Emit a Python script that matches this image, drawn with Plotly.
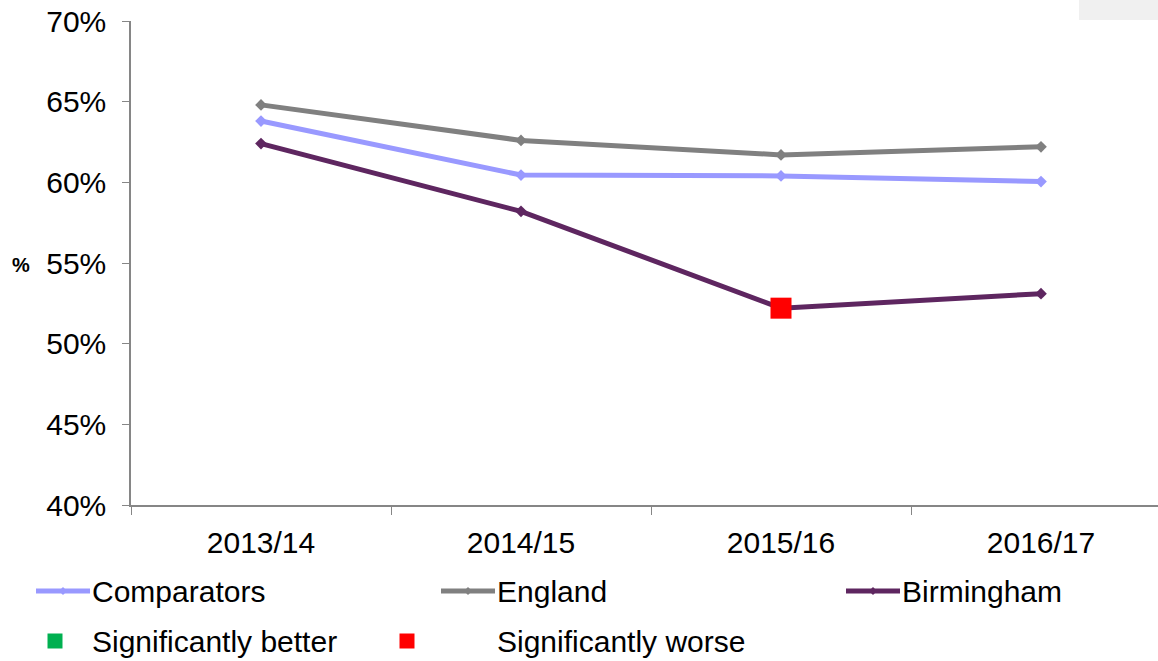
import plotly.graph_objects as go

# Data
years = ["2013/14", "2014/15", "2015/16", "2016/17"]
comparators = [63.8, 60.45, 60.4, 60.05]
england = [64.8, 62.6, 61.7, 62.2]
birmingham = [62.4, 58.2, 52.2, 53.1]
worse_year = ["2015/16"]
worse_value = [52.2]

series_names = ["Comparators", "England", "Birmingham"]
series_colors = ["#9999FF", "#808080", "#5E2660"]

FONT = "Arial, Liberation Sans, sans-serif"

# plot box in pixels
W_FIG, H_FIG = 1158, 661
L, T, R_EDGE, B_EDGE = 131, 21, 1158, 505


def xp(px):
    return (px - L) / (R_EDGE - L)


def yp(py):
    return (B_EDGE - py) / (B_EDGE - T)


fig = go.Figure()

for name, vals, col in zip(series_names, [comparators, england, birmingham], series_colors):
    fig.add_trace(go.Scatter(
        x=years, y=vals, name=name, mode="lines+markers",
        line=dict(color=col, width=5),
        marker=dict(symbol="diamond", size=9, color=col),
        showlegend=False
    ))

# significantly worse marker
fig.add_trace(go.Scatter(
    x=worse_year, y=worse_value, mode="markers",
    marker=dict(symbol="square", size=21, color="#FF0000"),
    showlegend=False
))

shapes = []
annotations = []

# grey box top right
shapes.append(dict(type="rect", xref="paper", yref="paper",
                   x0=xp(1079), x1=xp(1158), y0=yp(20), y1=yp(0),
                   fillcolor="#F0F0F0", line=dict(width=0), layer="below"))

# manual legend, row 1
row1 = 591
for i, (name, col) in enumerate(zip(series_names, series_colors)):
    x0 = 36 + i * 405
    shapes.append(dict(type="line", xref="paper", yref="paper",
                       x0=xp(x0), x1=xp(x0 + 54), y0=yp(row1), y1=yp(row1),
                       line=dict(color=col, width=5)))
    cx = x0 + 27
    d = 4
    path = "M {} {} L {} {} L {} {} L {} {} Z".format(
        xp(cx - d), yp(row1), xp(cx), yp(row1 - d), xp(cx + d), yp(row1), xp(cx), yp(row1 + d))
    shapes.append(dict(type="path", xref="paper", yref="paper", path=path,
                       fillcolor=col, line=dict(width=0)))
    annotations.append(dict(xref="paper", yref="paper", x=xp(x0 + 54), y=yp(row1),
                            text=name, showarrow=False, xanchor="left", yanchor="middle",
                            font=dict(size=30, color="#000000", family=FONT)))

# row 2
row2 = 641
for cx, col, txt, tx in [(55, "#00B050", "Significantly better", 92),
                         (407, "#FF0000", "Significantly worse", 497)]:
    shapes.append(dict(type="rect", xref="paper", yref="paper",
                       x0=xp(cx - 7.5), x1=xp(cx + 7.5), y0=yp(row2 + 7.5), y1=yp(row2 - 7.5),
                       fillcolor=col, line=dict(width=0)))
    annotations.append(dict(xref="paper", yref="paper", x=xp(tx - 2), y=yp(row2),
                            text=txt, showarrow=False, xanchor="left", yanchor="middle",
                            font=dict(size=30, color="#000000", family=FONT)))

# y axis label
annotations.append(dict(xref="paper", yref="paper", x=xp(21), y=yp(265),
                        text="<b>%</b>", showarrow=False, xanchor="center", yanchor="middle",
                        font=dict(size=20, color="#000000", family=FONT)))

fig.update_layout(
    width=W_FIG, height=H_FIG,
    margin=dict(l=L, r=0, t=T, b=H_FIG - B_EDGE, pad=0),
    plot_bgcolor="white", paper_bgcolor="white",
    showlegend=False,
    font=dict(family=FONT, size=30, color="#000000"),
    shapes=shapes, annotations=annotations,
    xaxis=dict(type="category", range=[-0.5, 3.45], showgrid=False,
               showline=True, linecolor="#868686", linewidth=1.5,
               ticks="outside", tickson="boundaries", ticklen=8, tickcolor="#868686",
               tickfont=dict(size=30), ticklabelstandoff=10, zeroline=False),
    yaxis=dict(range=[40, 70], dtick=5, ticksuffix="%", showgrid=False,
               showline=True, linecolor="#868686", linewidth=1.5,
               ticks="outside", ticklen=7, tickcolor="#868686",
               tickfont=dict(size=30), ticklabelstandoff=10, zeroline=False),
)

fig.write_html("out.html", config={"displayModeBar": False},
               post_script="document.body.style.margin='0';document.body.style.padding='0';document.body.style.overflow='hidden';")
